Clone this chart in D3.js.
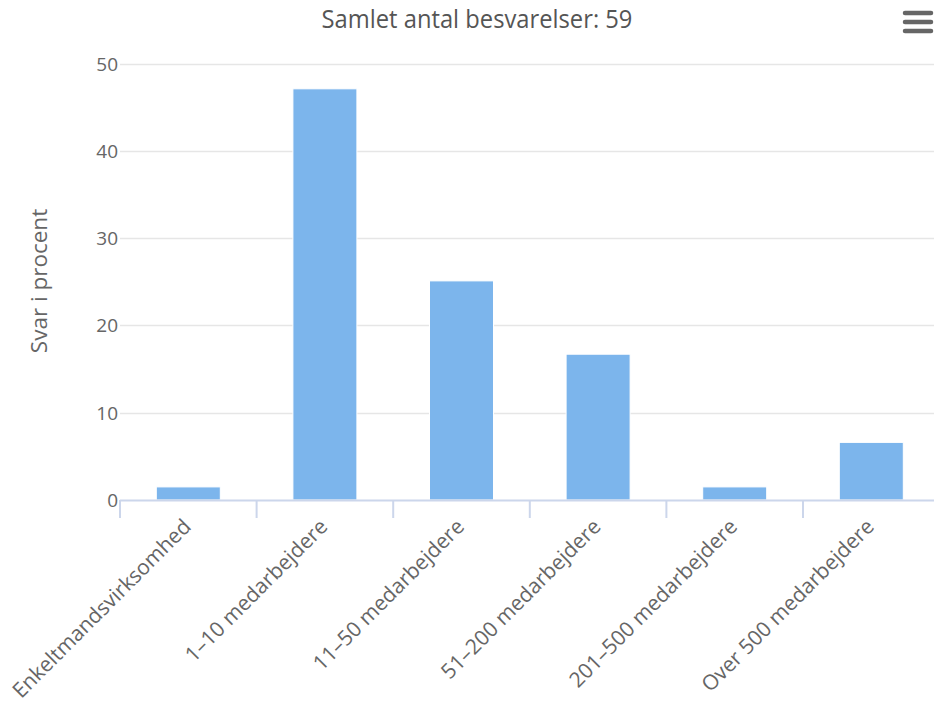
<!DOCTYPE html>
<html>
<head>
<meta charset="utf-8">
<script src="https://cdn.jsdelivr.net/npm/d3@7"></script>
<style>
  html, body { margin: 0; padding: 0; background: #fff; }
  svg { display: block; }
</style>
</head>
<body>
<svg id="chart" width="934" height="701"></svg>
<script>
const categories = ["Enkeltmandsvirksomhed", "1–10 medarbejdere", "11–50 medarbejdere", "51–200 medarbejdere", "201–500 medarbejdere", "Over 500 medarbejdere"];
const values = [1.5, 47.1, 25.1, 16.7, 1.5, 6.6];
const yTicks = [0, 10, 20, 30, 40, 50];
const titleText = "Samlet antal besvarelser: 59";
const yTitle = "Svar i procent";

(function () {
const svg = d3.select("#chart");
const left = 120, plotRight = 120 + 6 * 136.6, plotTop = 63.5, bottom = 500;

const x = d3.scaleBand().domain(categories).range([left, plotRight]).paddingInner(0).paddingOuter(0);
const y = d3.scaleLinear().domain([0, 50]).range([bottom, plotTop]);

// title (slightly condensed look via horizontal scaling)
svg.append("text")
  .attr("transform", "translate(477,28) scale(0.95,1)")
  .attr("text-anchor", "middle")
  .style("font-family", "'Open Sans', 'Noto Sans', sans-serif")
  .style("font-size", "25px")
  .style("fill", "#555")
  .text(titleText);

// menu icon
[13, 22, 31].forEach(yy => {
  svg.append("line").attr("x1", 905).attr("x2", 931).attr("y1", yy).attr("y2", yy)
    .attr("stroke", "#666").attr("stroke-width", 4.5).attr("stroke-linecap", "round");
});

// gridlines
svg.append("g").selectAll("line").data(yTicks.filter(d => d > 0)).join("line")
  .attr("x1", left).attr("x2", 934)
  .attr("y1", d => Math.round(y(d)) + 0.5).attr("y2", d => Math.round(y(d)) + 0.5)
  .attr("stroke", "#e6e6e6").attr("stroke-width", 1.5);

// y labels
const fontLabel = "'Open Sans', 'Noto Sans', sans-serif";
svg.append("g").selectAll("text").data(yTicks).join("text")
  .attr("x", 118).attr("y", d => y(d) + 7)
  .attr("text-anchor", "end")
  .style("font-family", fontLabel).style("font-size", "19px").style("fill", "#666")
  .text(d => d);

// y title
svg.append("text")
  .attr("transform", "translate(47,281) rotate(-90)")
  .attr("text-anchor", "middle")
  .style("font-family", fontLabel).style("font-size", "22.5px").style("fill", "#666")
  .text(yTitle);

// bars
const bw = 64;
svg.append("g").selectAll("rect").data(values).join("rect")
  .attr("x", (d, i) => x(categories[i]) + x.bandwidth() / 2 - bw / 2)
  .attr("y", d => y(d))
  .attr("width", bw)
  .attr("height", d => bottom - y(d))
  .attr("fill", "#7cb5ec")
  .attr("stroke", "#fff").attr("stroke-width", 1);

// x axis line
svg.append("line").attr("x1", left).attr("x2", 934).attr("y1", bottom + 0.5).attr("y2", bottom + 0.5)
  .attr("stroke", "#ccd6eb").attr("stroke-width", 2);

// ticks at boundaries
const bounds = categories.map(c => x(c));
svg.append("g").selectAll("line").data(bounds).join("line")
  .attr("x1", d => d).attr("x2", d => d)
  .attr("y1", bottom).attr("y2", bottom + 18)
  .attr("stroke", "#ccd6eb").attr("stroke-width", 2);

// x labels
svg.append("g").selectAll("text").data(categories).join("text")
  .attr("transform", c => `translate(${x(c) + x.bandwidth() / 2 + 4},${bottom + 28}) rotate(-45)`)
  .attr("text-anchor", "end")
  .style("font-family", fontLabel).style("font-size", "21px").style("fill", "#666")
  .text(c => c);
})();
</script>
</body>
</html>
